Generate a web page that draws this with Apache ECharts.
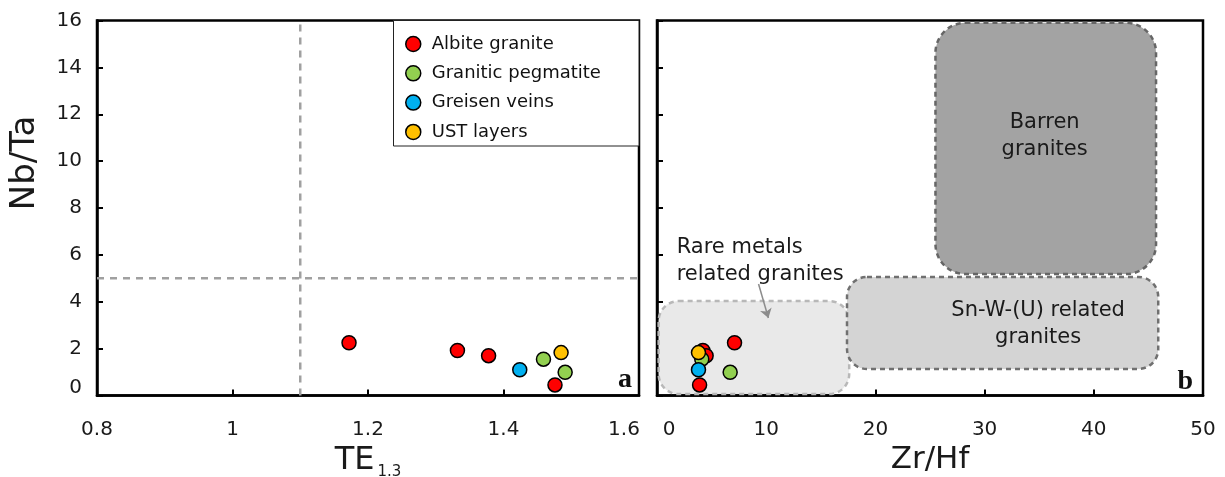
<!DOCTYPE html>
<html>
<head>
<meta charset="utf-8">
<script src="https://cdn.jsdelivr.net/npm/echarts@6/dist/echarts.min.js"></script>
<style>
  html, body { margin: 0; padding: 0; background: #fff; }
  #chart { width: 1225px; height: 477px; }
</style>
</head>
<body>
<div id="chart"></div>
<script>
// ---- sample groups ----
const groupNames = ['Albite granite', 'Granitic pegmatite', 'Greisen veins', 'UST layers'];
const groupColors = ['#ff0000', '#92d050', '#00b0f0', '#ffc000'];

// TE1.3, Nb/Ta and Zr/Hf for each sample (same order in each list)
const albiteTE   = [1.172, 1.332, 1.378, 1.476];
const albiteNbTa = [2.25, 1.92, 1.70, 0.45];
const albiteZrHf = [7.1, 4.2, 4.5, 3.9];

const pegmatiteTE   = [1.459, 1.491];
const pegmatiteNbTa = [1.55, 0.99];
const pegmatiteZrHf = [4.1, 6.7];

const greisenTE   = [1.424];
const greisenNbTa = [1.10];
const greisenZrHf = [3.8];

const ustTE   = [1.485];
const ustNbTa = [1.83];
const ustZrHf = [3.8];

// discrimination fields in Zr/Hf vs Nb/Ta: [x0, x1, y0, y1]
const fieldRare   = [0.15, 17.6, 0.06, 4.03];
const fieldSnW    = [17.4, 45.9, 1.13, 5.06];
const fieldBarren = [25.5, 45.7, 5.18, 15.9];

// field annotations
const noteText = ['Barren\ngranites', 'Sn-W-(U) related\ngranites', 'Rare metals\nrelated granites'];
const noteZrHf = [35.5, 34.9, 1.8];
const noteNbTa = [11.09, 3.05, 5.74];
const noteAlign = ['center', 'center', 'left'];

// arrow pointing into the rare-metal field
const arrowFrom = [9.3, 4.76];
const arrowTo   = [10.2, 3.31];

// reference thresholds in TE1.3 vs Nb/Ta
const teThreshold = 1.1;
const nbTaThreshold = 5;

// axis ranges
const teRange = [0.8, 1.6], teStep = 0.2;
const zrHfRange = [0, 50], zrHfStep = 10;
const nbTaRange = [0, 16], nbTaStep = 2;

const FONT = '"DejaVu Sans", sans-serif';
const INK = '#1a1a1a';
const FRAME = 2.5;

const zip = (xs, ys) => xs.map((x, i) => [x, ys[i]]);

const chart = echarts.init(document.getElementById('chart'), null, { renderer: 'canvas' });

const pointStyle = (i) => ({ color: groupColors[i], borderColor: '#000', borderWidth: 1.5, opacity: 1 });

const tePoints   = [zip(albiteTE, albiteNbTa), zip(pegmatiteTE, pegmatiteNbTa), zip(greisenTE, greisenNbTa), zip(ustTE, ustNbTa)];
const zrHfPoints = [zip(albiteZrHf, albiteNbTa), zip(pegmatiteZrHf, pegmatiteNbTa), zip(greisenZrHf, greisenNbTa), zip(ustZrHf, ustNbTa)];

const scatterSeries = [];
groupNames.forEach((name, i) => {
  scatterSeries.push({
    name, type: 'scatter', xAxisIndex: 0, yAxisIndex: 0,
    data: tePoints[i], symbol: 'circle', symbolSize: 14, z: 5,
    itemStyle: pointStyle(i), emphasis: { disabled: true }
  });
});
groupNames.forEach((name, i) => {
  scatterSeries.push({
    name, type: 'scatter', xAxisIndex: 1, yAxisIndex: 1,
    data: zrHfPoints[i], symbol: 'circle', symbolSize: 14, z: 5,
    itemStyle: pointStyle(i), emphasis: { disabled: true }
  });
});

const fieldStyles = [
  { fill: '#e9e9e9', stroke: '#b8b8b8', r: 20 },
  { fill: '#d4d4d4', stroke: '#707070', r: 20 },
  { fill: '#a3a3a3', stroke: '#666666', r: 30 }
];

const axisLabelBase = { fontFamily: FONT, fontSize: 20, color: INK };
const axisLineStyle = { show: true, lineStyle: { color: '#000', width: FRAME } };
const tickStyle = { show: true, inside: true, length: 6, lineStyle: { color: '#000', width: 2 } };

const option = {
  backgroundColor: '#fff',
  animation: false,
  textStyle: { fontFamily: FONT },
  grid: [
    { left: 97, top: 20.5, width: 542, height: 375, show: true, borderColor: '#000', borderWidth: FRAME,
      backgroundColor: 'transparent', outerBoundsMode: 'none', containLabel: false },
    { left: 657, top: 20.5, width: 546, height: 375, show: true, borderColor: '#000', borderWidth: FRAME,
      backgroundColor: 'transparent', outerBoundsMode: 'none', containLabel: false }
  ],
  legend: {
    data: groupNames.map((name, i) => ({ name, icon: 'circle', itemStyle: { color: groupColors[i], borderColor: '#000', borderWidth: 1.5 } })),
    orient: 'vertical', left: 400, top: 30,
    itemWidth: 15, itemHeight: 15, itemGap: 11.3,
    selectedMode: false,
    textStyle: { fontFamily: FONT, fontSize: 18, color: '#111', lineHeight: 18, padding: [0, 0, 0, 6] },
    z: 6
  },
  xAxis: [
    {
      type: 'value', gridIndex: 0, min: teRange[0], max: teRange[1], interval: teStep,
      axisLine: axisLineStyle, axisTick: tickStyle, splitLine: { show: false },
      axisLabel: {
        ...axisLabelBase, margin: 24,
        formatter: (v) => Math.abs(v - teRange[1]) < 1e-9 ? '{hi|' + v + '}' : String(+v.toFixed(2)),
        rich: { hi: { ...axisLabelBase, padding: [0, 30, 0, 0] } }
      },
      name: '{m|TE}{s|1.3}', nameLocation: 'middle', nameGap: 41,
      nameTextStyle: {
        color: INK,
        rich: {
          m: { fontFamily: FONT, fontSize: 32, color: INK, lineHeight: 36, verticalAlign: 'bottom' },
          s: { fontFamily: FONT, fontSize: 15, color: INK, lineHeight: 15, verticalAlign: 'bottom', padding: [0, 0, -3, 3] }
        }
      }
    },
    {
      type: 'value', gridIndex: 1, min: zrHfRange[0], max: zrHfRange[1], interval: zrHfStep,
      axisLine: axisLineStyle, axisTick: tickStyle, splitLine: { show: false },
      axisLabel: {
        ...axisLabelBase, margin: 24,
        formatter: (v) => v === zrHfRange[0] ? '{lo|' + v + '}' : String(v),
        rich: { lo: { ...axisLabelBase, padding: [0, 0, 0, 24] } }
      },
      name: 'Zr/Hf', nameLocation: 'middle', nameGap: 42,
      nameTextStyle: { fontFamily: FONT, fontSize: 31, color: INK }
    }
  ],
  yAxis: [
    {
      type: 'value', gridIndex: 0, min: nbTaRange[0], max: nbTaRange[1], interval: nbTaStep,
      axisLine: axisLineStyle, axisTick: tickStyle, splitLine: { show: false },
      axisLabel: {
        ...axisLabelBase, margin: 15,
        formatter: (v) => v === nbTaRange[0] ? '{lo|' + v + '}' : String(v),
        rich: { lo: { ...axisLabelBase, padding: [0, 0, 16, 0] } }
      }
    },
    {
      type: 'value', gridIndex: 1, min: nbTaRange[0], max: nbTaRange[1], interval: nbTaStep,
      axisLine: axisLineStyle, axisTick: tickStyle, splitLine: { show: false },
      axisLabel: { show: false }
    }
  ],
  graphic: [
    // legend frame
    { type: 'rect', z: 5, shape: { x: 393.5, y: 20.5, width: 245.5, height: 125.5 },
      style: { fill: '#fff', stroke: '#222', lineWidth: 1 } },
    // vertical axis title
    { type: 'text', x: 25, y: 163, rotation: Math.PI / 2, z: 10,
      style: { text: 'Nb/Ta', fontFamily: FONT, fontSize: 34, fill: INK, align: 'center', verticalAlign: 'middle' } },
    // panel letters
    { type: 'text', x: 632, y: 394, z: 10,
      style: { text: 'a', fontFamily: '"Liberation Serif", serif', fontWeight: 'bold', fontSize: 28, fill: '#111', align: 'right', verticalAlign: 'bottom' } },
    { type: 'text', x: 1193, y: 396, z: 10,
      style: { text: 'b', fontFamily: '"Liberation Serif", serif', fontWeight: 'bold', fontSize: 28, fill: '#111', align: 'right', verticalAlign: 'bottom' } }
  ],
  series: [
    // threshold lines
    {
      name: 'te-threshold', type: 'line', xAxisIndex: 0, yAxisIndex: 0, symbol: 'none', silent: true, z: 1,
      data: [[teThreshold, nbTaRange[0]], [teThreshold, nbTaRange[1]]],
      lineStyle: { color: '#a0a0a0', width: 2.5, type: [7, 6] }
    },
    {
      name: 'nbta-threshold', type: 'line', xAxisIndex: 0, yAxisIndex: 0, symbol: 'none', silent: true, z: 1,
      data: [[teRange[0], nbTaThreshold], [teRange[1], nbTaThreshold]],
      lineStyle: { color: '#a0a0a0', width: 2.5, type: [7, 6] }
    },
    // discrimination fields
    {
      name: 'fields', type: 'custom', xAxisIndex: 1, yAxisIndex: 1, silent: true, z: 1,
      data: [fieldRare, fieldSnW, fieldBarren],
      encode: { x: [0, 1], y: [2, 3] },
      renderItem: (params, api) => {
        const tl = api.coord([api.value(0), api.value(3)]);
        const br = api.coord([api.value(1), api.value(2)]);
        const s = fieldStyles[params.dataIndex];
        return {
          type: 'rect',
          shape: { x: tl[0], y: tl[1], width: br[0] - tl[0], height: br[1] - tl[1], r: s.r },
          style: { fill: s.fill, stroke: s.stroke, lineWidth: 2.5, lineDash: [5, 4] }
        };
      }
    },
    // field annotations
    {
      name: 'notes', type: 'custom', xAxisIndex: 1, yAxisIndex: 1, silent: true, z: 3,
      data: noteZrHf.map((x, i) => [x, noteNbTa[i]]),
      renderItem: (params, api) => {
        const p = api.coord([api.value(0), api.value(1)]);
        const i = params.dataIndex;
        return {
          type: 'text', x: p[0], y: p[1],
          style: { text: noteText[i], fontFamily: FONT, fontSize: 21, fill: INK, align: noteAlign[i], verticalAlign: 'middle', lineHeight: 27 }
        };
      }
    },
    // arrow
    {
      name: 'arrow', type: 'lines', coordinateSystem: 'cartesian2d', xAxisIndex: 1, yAxisIndex: 1, silent: true, z: 3,
      data: [{ coords: [arrowFrom, arrowTo] }],
      symbol: ['none', 'arrow'], symbolSize: 9,
      lineStyle: { color: '#8c8c8c', width: 1.5, opacity: 1 }
    },
    ...scatterSeries
  ]
};

chart.setOption(option);
</script>
</body>
</html>
